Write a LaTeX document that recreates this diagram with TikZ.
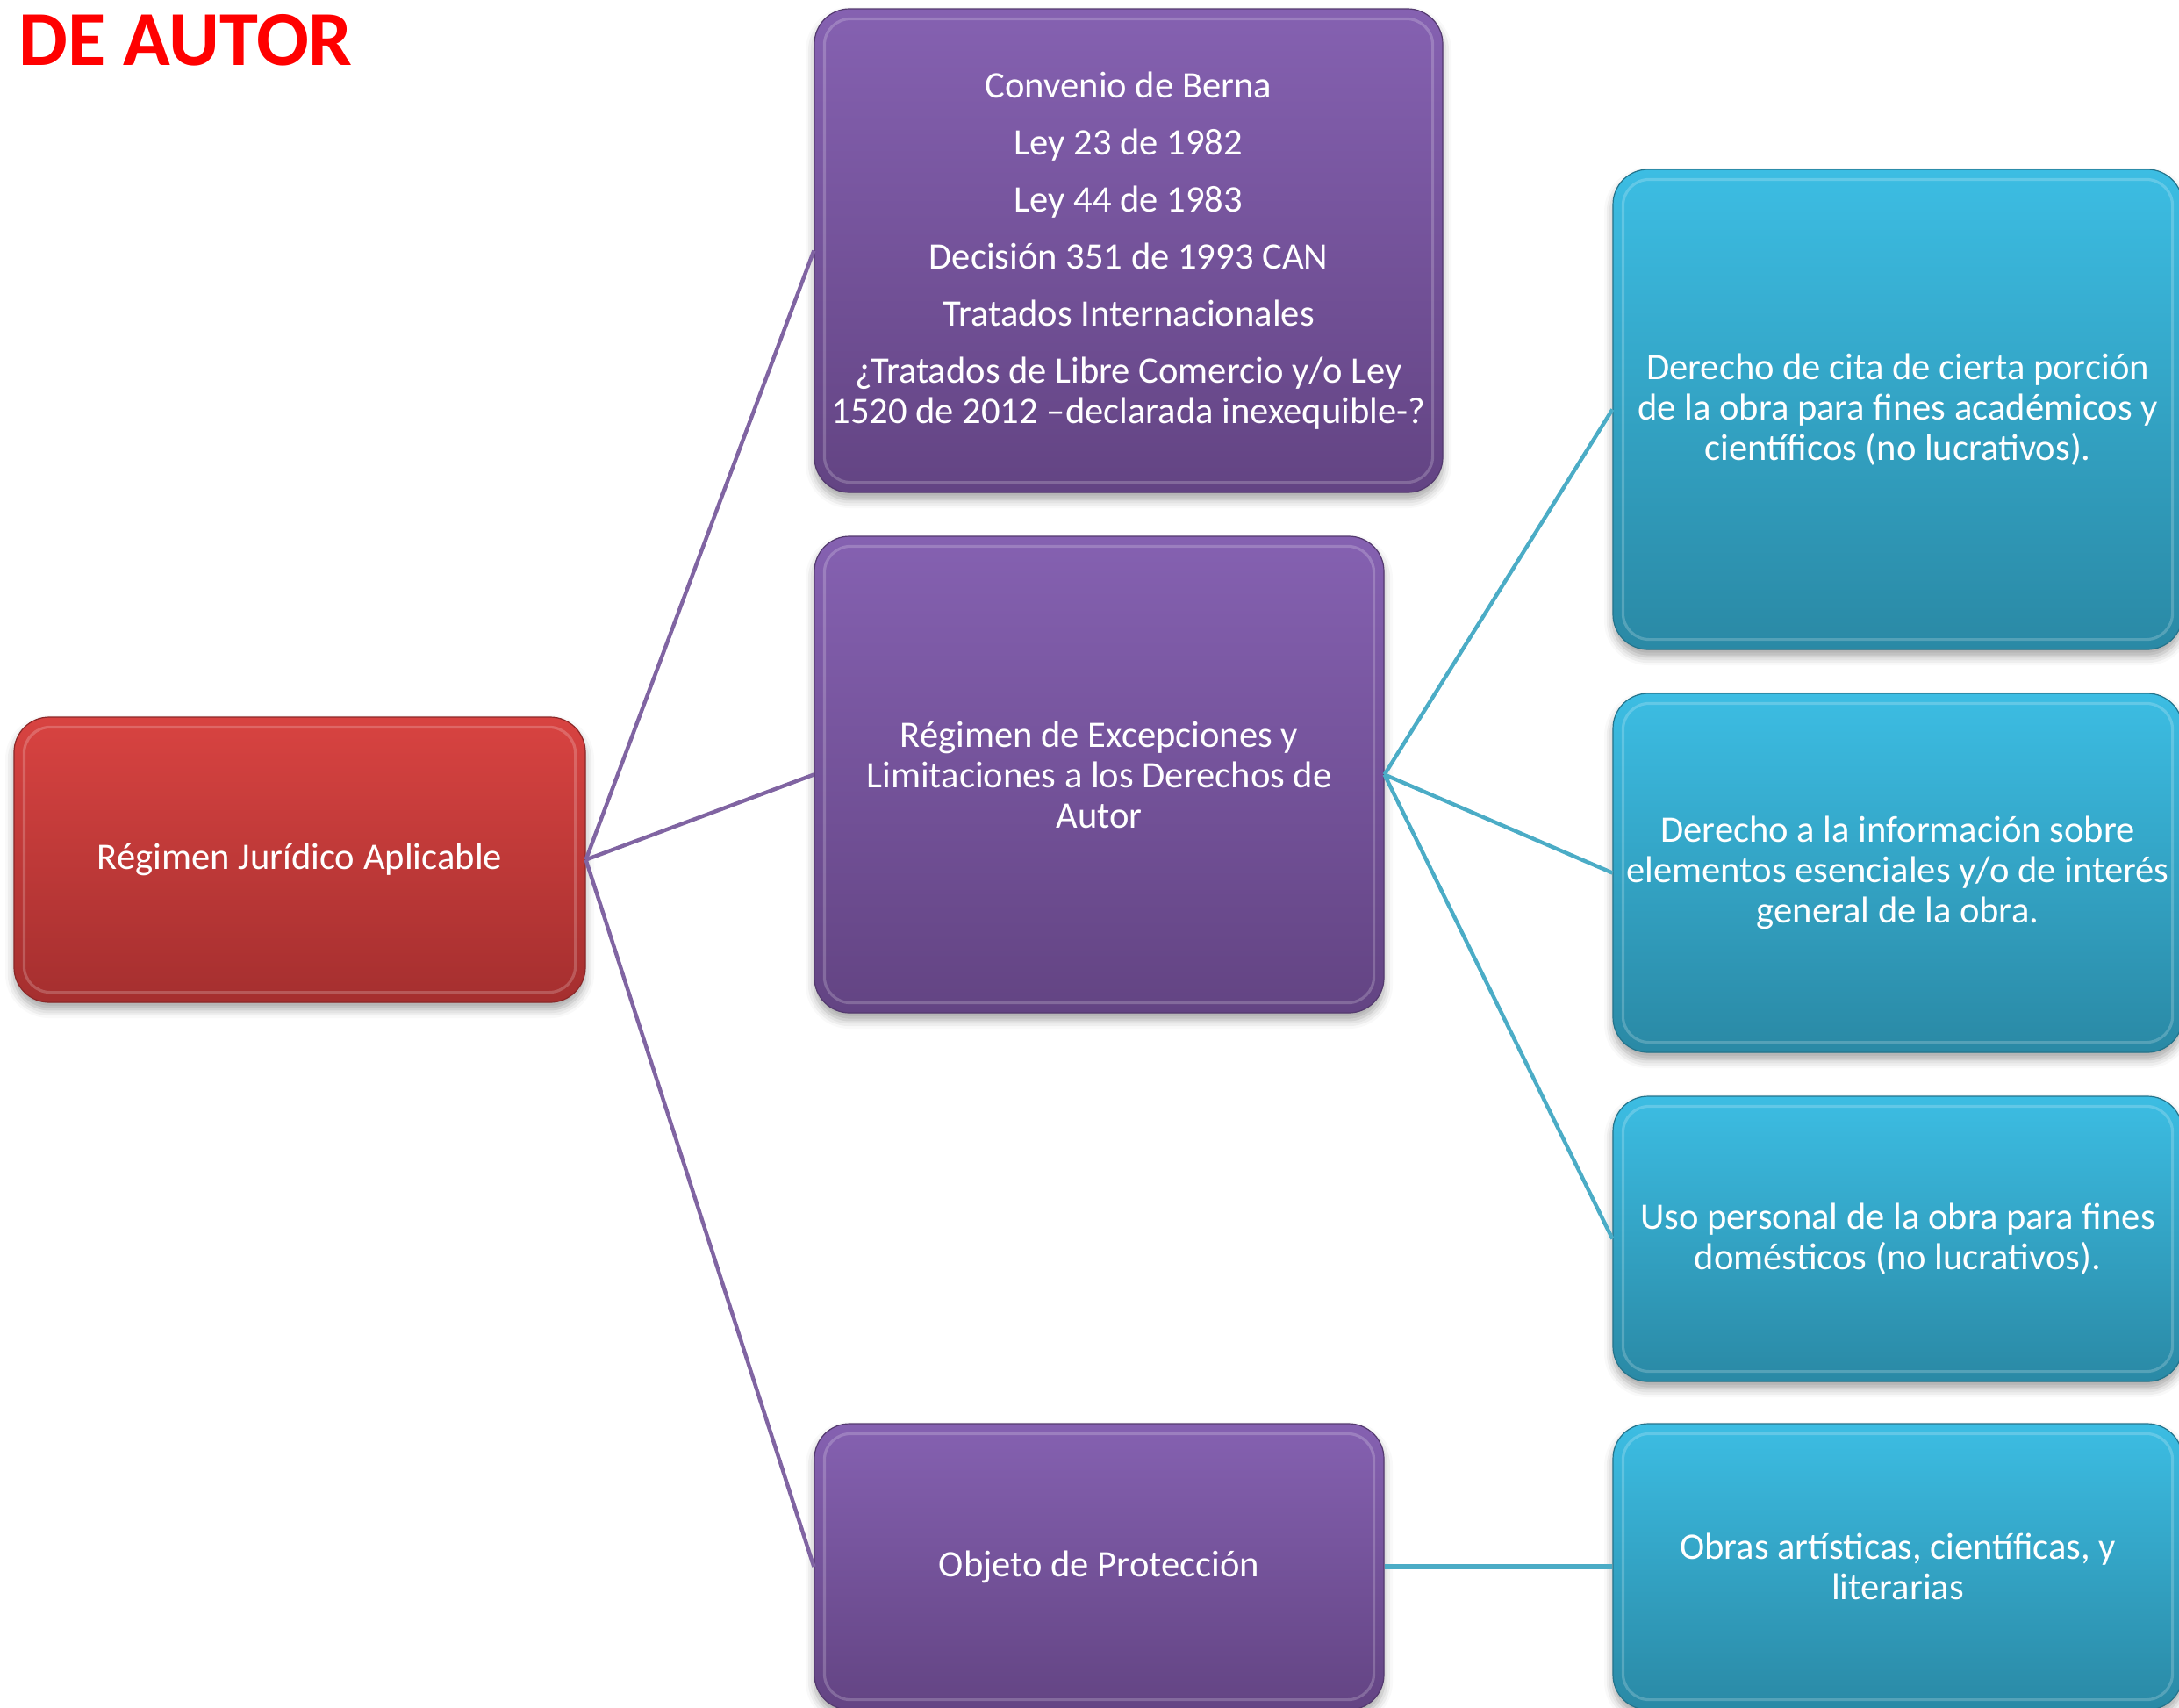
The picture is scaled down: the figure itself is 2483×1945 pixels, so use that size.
\documentclass[tikz,border=0pt]{standalone}
\usepackage{fontspec}
\setmainfont{Carlito}
\usetikzlibrary{shadows.blur}
\definecolor{redtop}{HTML}{D84341}
\definecolor{redbot}{HTML}{A52F2F}
\definecolor{purtop}{HTML}{8561B1}
\definecolor{purbot}{HTML}{634483}
\definecolor{cyantop}{HTML}{3CBDE3}
\definecolor{cyanbot}{HTML}{2A89A5}
\definecolor{pline}{HTML}{8064A2}
\definecolor{cline}{HTML}{4BACC6}
\definecolor{titlered}{HTML}{FF0000}
\tikzset{
  boxbase/.style={rounded corners=20pt, align=center, text=white, inner sep=0pt,
    font=\fontsize{21.3pt}{23pt}\selectfont,
    blur shadow={shadow xshift=0pt, shadow yshift=-4pt, shadow blur radius=5pt, shadow opacity=35}},
  redbox/.style={boxbase, top color=redtop, bottom color=redbot, draw=redbot!85!black, line width=0.6pt},
  purbox/.style={boxbase, top color=purtop, bottom color=purbot, draw=purbot!85!black, line width=0.6pt},
  cyanbox/.style={boxbase, top color=cyantop, bottom color=cyanbot, draw=cyanbot!85!black, line width=0.6pt},
  hl/.style={rounded corners=15pt, draw=white, draw opacity=0.2, line width=1.6pt},
  purline/.style={draw=pline, line width=2.2pt},
  cyanline/.style={draw=cline, line width=2.2pt},
}
\begin{document}
\begin{tikzpicture}[x=0.5pt,y=-0.5pt]
\useasboundingbox (0,0) rectangle (2483,1945);
\clip (0,0) rectangle (2483,1945);
\node[anchor=base west, inner sep=0pt, text=titlered, font=\fontsize{44.3pt}{50pt}\selectfont\bfseries] (title) at (21,74) {DE AUTOR};

\node[redbox, minimum width=325.5pt, minimum height=162.5pt] (r) at (341.5,979.5) {Régimen Jurídico Aplicable};
\node[purbox, minimum width=358pt, minimum height=275.5pt] (p1) at (1286,285.5) {Convenio de Berna\\[9.5pt] Ley 23 de 1982\\[9.5pt] Ley 44 de 1983\\[9.5pt] Decisión 351 de 1993 CAN\\[9.5pt] Tratados Internacionales\\[9.5pt] ¿Tratados de Libre Comercio y/o Ley\\ 1520 de 2012 –declarada inexequible-?};
\node[purbox, minimum width=324.5pt, minimum height=271.5pt] (p2) at (1252.5,882.5) {Régimen de Excepciones y\\ Limitaciones a los Derechos de\\ Autor};
\node[purbox, minimum width=324.5pt, minimum height=163pt] (p3) at (1252.5,1785) {Objeto de Protección};
\node[cyanbox, minimum width=324.5pt, minimum height=273.5pt] (c1) at (2162.5,466.5) {Derecho de cita de cierta porción\\ de la obra para fines académicos y\\ científicos (no lucrativos).};
\node[cyanbox, minimum width=324.5pt, minimum height=204.5pt] (c2) at (2162.5,994.5) {Derecho a la información sobre\\ elementos esenciales y/o de interés\\ general de la obra.};
\node[cyanbox, minimum width=324.5pt, minimum height=162.5pt] (c3) at (2162.5,1411.5) {Uso personal de la obra para fines\\ domésticos (no lucrativos).};
\node[cyanbox, minimum width=324.5pt, minimum height=163pt] (c4) at (2162.5,1785) {Obras artísticas, científicas, y\\ literarias};

\foreach \n in {r,p1,p2,p3,c1,c2,c3,c4}{
  \draw[hl] ([shift={(6pt,-6pt)}]\n.north west) rectangle ([shift={(-6pt,6pt)}]\n.south east);
}

\draw[purline] (r.east) -- (p1.west);
\draw[purline] (r.east) -- (p2.west);
\draw[purline] (r.east) -- (p3.west);
\draw[cyanline] (p2.east) -- (c1.west);
\draw[cyanline] (p2.east) -- (c2.west);
\draw[cyanline] (p2.east) -- (c3.west);
\draw[cyanline, line width=3pt] (p3.east) -- (c4.west);
\end{tikzpicture}
\end{document}
